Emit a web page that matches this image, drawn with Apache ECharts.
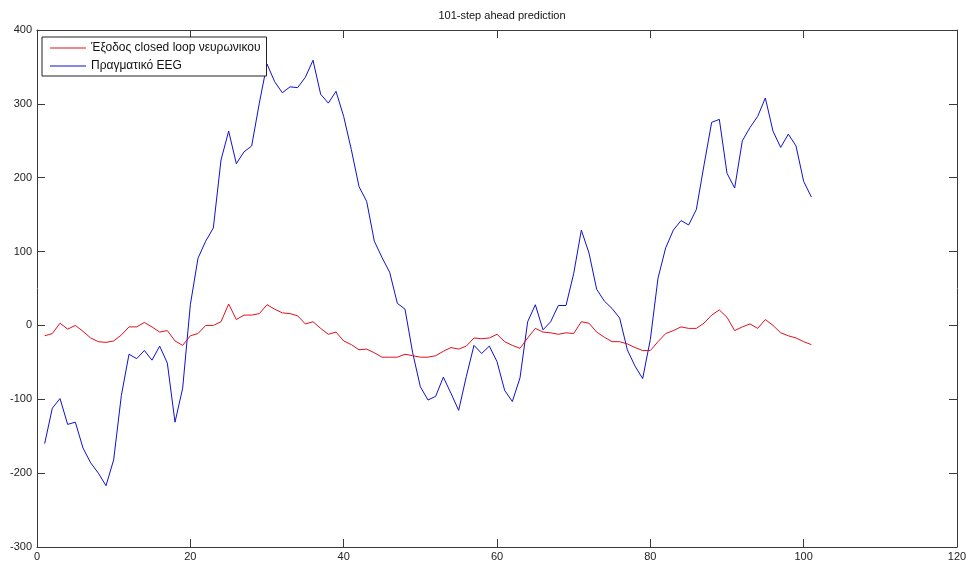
<!DOCTYPE html>
<html>
<head>
<meta charset="utf-8">
<script src="https://cdn.jsdelivr.net/npm/echarts@6/dist/echarts.min.js"></script>
<style>
html,body{margin:0;padding:0;background:#fff;}
#chart{width:971px;height:566px;}
</style>
</head>
<body>
<div id="chart"></div>
<script>
const steps = [1,2,3,4,5,6,7,8,9,10,11,12,13,14,15,16,17,18,19,20,
  21,22,23,24,25,26,27,28,29,30,31,32,33,34,35,36,37,38,39,40,
  41,42,43,44,45,46,47,48,49,50,51,52,53,54,55,56,57,58,59,60,
  61,62,63,64,65,66,67,68,69,70,71,72,73,74,75,76,77,78,79,80,
  81,82,83,84,85,86,87,88,89,90,91,92,93,94,95,96,97,98,99,100,101];

const predicted = [-14,-11,3,-5,0,-8,-17,-22,-23,-21,
  -13,-2,-2,4,-2,-9,-7,-21,-27,-14,
  -11,0,0,5,29,8,14,14,16,28,
  22,17,16,13,2,5,-4,-12,-9,-21,
  -26,-33,-32,-37,-43,-43,-43,-39,-41,-43,
  -43,-41,-35,-30,-32,-28,-17,-18,-17,-12,
  -22,-27,-31,-17,-4,-9,-10,-12,-10,-11,
  5,3,-9,-16,-22,-22,-25,-30,-34,-34,
  -22,-11,-7,-2,-4,-4,3,14,21,11,
  -7,-2,2,-4,8,0,-10,-14,-17,-22,-26];

const actual = [-160,-112,-99,-134,-131,-166,-186,-200,-217,-182,
  -95,-39,-45,-34,-47,-28,-51,-131,-85,28,
  91,114,132,224,263,219,235,243,301,354,
  330,315,323,322,336,359,313,301,317,283,
  238,188,168,114,92,72,30,22,-37,-83,
  -101,-96,-70,-92,-115,-69,-27,-38,-28,-49,
  -88,-103,-71,5,28,-6,5,27,27,70,
  129,98,49,33,23,10,-33,-55,-72,-19,
  64,105,129,142,136,157,217,275,279,206,
  186,250,268,283,308,263,241,259,243,195,174];

const xTicks = [0, 20, 40, 60, 80, 100, 120];
const yTicks = [-300, -200, -100, 0, 100, 200, 300, 400];

const names = ['Έξοδος closed loop νευρωνικου', 'Πραγματικό EEG'];

function pairs(ys){ return steps.map((s,i)=>[s, ys[i]]); }

const axisColor = '#3a3a3a';
const font = 'Liberation Sans, Arial, sans-serif';
const redC = '#e0101c';
const blueC = '#1010d0';

function axisBase(extra){
  return Object.assign({
    type: 'value',
    axisLine: {show: true, onZero: false, lineStyle: {color: axisColor, width: 1}},
    axisTick: {show: true, inside: true, length: 8, lineStyle: {color: axisColor}},
    splitLine: {show: false}
  }, extra);
}

const chart = echarts.init(document.getElementById('chart'), null, {renderer:'canvas'});
chart.setOption({
  animation: false,
  backgroundColor: '#fff',
  title: {
    text: '101-step ahead prediction',
    left: 497, top: 5,
    textAlign: 'center',
    textStyle: {fontSize: 11, fontWeight: 'normal', color: '#111', fontFamily: font}
  },
  legend: {
    data: [
      {name: names[0], icon: 'rect', itemStyle: {color: redC}},
      {name: names[1], icon: 'rect', itemStyle: {color: blueC}}
    ],
    orient: 'vertical',
    left: 42, top: 37,
    backgroundColor: '#fff',
    borderColor: '#222',
    borderWidth: 1,
    borderRadius: 0,
    padding: [4, 6, 3, 8],
    itemGap: 4,
    itemWidth: 36,
    itemHeight: 1.2,
    textStyle: {fontSize: 12, color: '#111', fontFamily: font, lineHeight: 14, height: 14}
  },
  grid: {left: 37, right: 14, top: 30, bottom: 19, containLabel: false},
  xAxis: [
    axisBase({min: xTicks[0], max: xTicks[xTicks.length-1], interval: 20,
      axisLabel: {color: '#222', fontSize: 11, margin: 4, fontFamily: font}}),
    axisBase({position: 'top', min: xTicks[0], max: xTicks[xTicks.length-1], interval: 20,
      axisLabel: {show: false}})
  ],
  yAxis: [
    axisBase({min: yTicks[0], max: yTicks[yTicks.length-1], interval: 100,
      axisLabel: {color: '#222', fontSize: 11, margin: 5, fontFamily: font}}),
    axisBase({position: 'right', min: yTicks[0], max: yTicks[yTicks.length-1], interval: 100,
      axisLabel: {show: false}})
  ],
  series: [{
    name: names[0], type: 'line', data: pairs(predicted),
    symbol: 'none', lineStyle: {color: redC, width: 1}, itemStyle: {color: redC},
    xAxisIndex: 0, yAxisIndex: 0, z: 3
  },{
    name: names[1], type: 'line', data: pairs(actual),
    symbol: 'none', lineStyle: {color: blueC, width: 1}, itemStyle: {color: blueC},
    xAxisIndex: 0, yAxisIndex: 0, z: 2
  }]
});
</script>
</body>
</html>
